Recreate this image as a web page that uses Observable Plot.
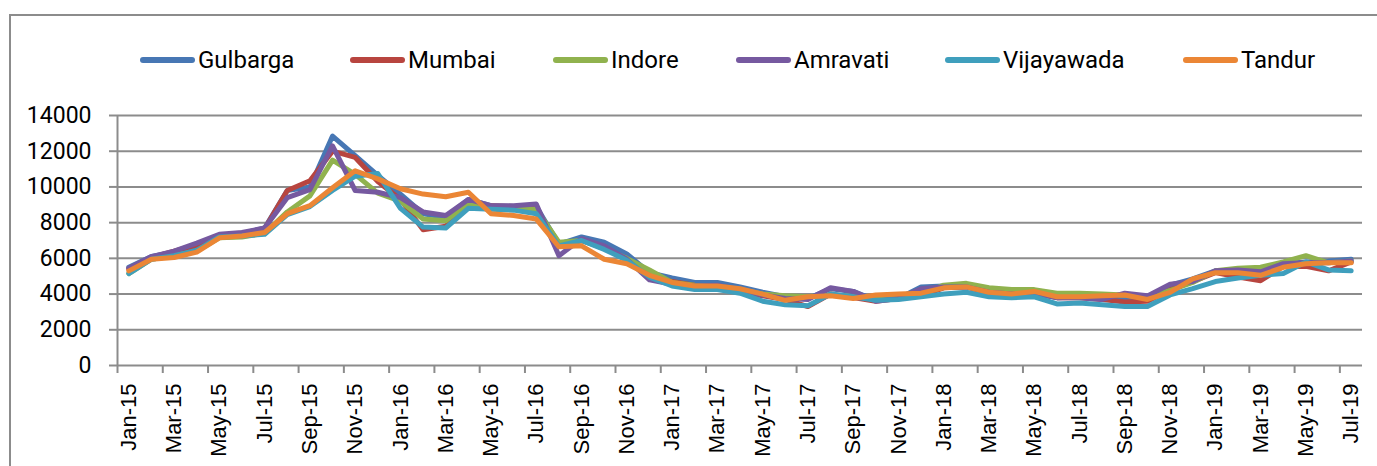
<!DOCTYPE html>
<html><head><meta charset="utf-8">
<script src="https://cdn.jsdelivr.net/npm/d3@7"></script>
<script src="https://cdn.jsdelivr.net/npm/@observablehq/plot@0.6"></script>
<style>
body{margin:0;background:#fff;}
#wrap{position:relative;width:1377px;height:466px;overflow:hidden;background:#fff;}
#frame{position:absolute;left:9px;top:14px;width:1400px;height:500px;border:2px solid #8c8c8c;box-sizing:border-box;}
#legend{position:absolute;left:0;top:45px;height:30px;width:1377px;font-family:Roboto,sans-serif;font-size:24px;color:#000;}
.item{position:absolute;top:0;height:30px;display:flex;align-items:center;white-space:nowrap;}
.sw{width:55px;height:6px;border-radius:3px;margin-right:3px;}
#chart{position:absolute;left:0;top:95px;}
</style>
</head><body>
<div id="wrap"><div id="frame"></div><div id="legend"></div><div id="chart"></div></div>
<script>
const months = ["Jan-15","Feb-15","Mar-15","Apr-15","May-15","Jun-15","Jul-15","Aug-15","Sep-15","Oct-15","Nov-15","Dec-15",
"Jan-16","Feb-16","Mar-16","Apr-16","May-16","Jun-16","Jul-16","Aug-16","Sep-16","Oct-16","Nov-16","Dec-16",
"Jan-17","Feb-17","Mar-17","Apr-17","May-17","Jun-17","Jul-17","Aug-17","Sep-17","Oct-17","Nov-17","Dec-17",
"Jan-18","Feb-18","Mar-18","Apr-18","May-18","Jun-18","Jul-18","Aug-18","Sep-18","Oct-18","Nov-18","Dec-18",
"Jan-19","Feb-19","Mar-19","Apr-19","May-19","Jun-19","Jul-19"];
const seriesNames = ["Gulbarga","Mumbai","Indore","Amravati","Vijayawada","Tandur"];
const seriesColors = ["#4777b4","#b8453f","#90b24e","#7659a0","#3f9fbd","#eb8635"];
const gulbarga = [5500,6100,6350,6700,7300,7400,7700,9800,10000,12850,11750,10650,9600,8500,8300,9300,8950,8900,8900,6800,7200,6900,6250,5200,4900,4650,4650,4400,4100,3850,3750,4300,4150,3650,3750,4400,4450,4450,4100,4000,4050,3800,3850,3800,3800,3700,4500,4850,5300,5350,5250,5700,5800,5850,5950];
const mumbai = [5400,6050,6400,6750,7300,7400,7650,9800,10350,12000,11650,10300,9300,7600,7800,9000,8950,8900,8800,6700,7000,6600,5900,5100,4700,4500,4450,4100,3900,3700,3300,4000,3800,3600,3750,3900,4350,4400,4050,4000,4050,3800,3800,3700,3550,3600,4250,4700,5200,4950,4750,5550,5550,5300,5800];
const indore = [5150,5950,6150,6400,7150,7200,7400,8600,9500,11500,10700,9650,9200,8200,8100,9050,8800,8750,8750,6900,7000,6550,6000,5350,4650,4500,4450,4250,4000,3900,3850,3950,3850,3800,3850,4000,4500,4600,4350,4250,4250,4050,4050,4000,3950,3800,4200,4650,5300,5450,5500,5800,6150,5750,5850];
const amravati = [5450,6100,6400,6850,7350,7450,7700,9400,9850,12300,9800,9700,9400,8600,8400,9300,8950,8950,9050,6150,7100,6700,5950,4800,4550,4450,4500,4250,3950,3750,3700,4350,4150,3600,3750,4300,4400,4400,4100,4000,4050,3800,3800,3700,4050,3900,4550,4700,5300,5350,5250,5700,5750,5750,5850];
const vijayawada = [5150,5950,6150,6450,7200,7250,7350,8450,8900,9800,10600,10750,8800,7750,7700,8800,8750,8700,8500,6700,7000,6500,5900,4950,4450,4250,4250,4050,3600,3400,3350,4000,3850,3650,3700,3850,4000,4100,3850,3800,3850,3450,3500,3400,3300,3300,3950,4300,4700,4900,5050,5150,5800,5350,5300];
const tandur = [5300,5950,6050,6350,7150,7250,7450,8500,8950,9950,10900,10450,9900,9600,9450,9700,8500,8400,8200,6650,6700,5950,5700,5050,4650,4450,4450,4300,4000,3650,3850,3900,3750,3950,4000,4050,4350,4400,4100,4000,4150,3850,3850,3900,3950,3700,4100,4850,5200,5200,5050,5500,5700,5750,5750];
const yTicks = [0,2000,4000,6000,8000,10000,12000,14000];

const allSeries = [gulbarga, mumbai, indore, amravati, vijayawada, tandur];
const data = [];
allSeries.forEach((vals, s) => vals.forEach((v, i) => data.push({i, month: months[i], value: v, series: seriesNames[s]})));

const idx = months.map((m, i) => i);
const xDomain = [-0.5, months.length - 0.5];
const boundaries = idx.filter(i => i % 2 === 0).map(i => i - 0.5);
const labelIdx = idx.filter(i => i % 2 === 0);

// legend (item left offsets are layout)
const legendLeft = [140, 350, 553, 736, 945, 1183];
const leg = document.getElementById("legend");
seriesNames.forEach((n, k) => {
  const it = document.createElement("div"); it.className = "item";
  it.style.left = legendLeft[k] + "px";
  it.innerHTML = `<div class="sw" style="background:${seriesColors[k]}"></div><span>${n}</span>`;
  leg.appendChild(it);
});

const chart = Plot.plot({
  width: 1377, height: 371,
  marginLeft: 117, marginRight: 15, marginTop: 20, marginBottom: 101,
  style: {background: "transparent", overflow: "visible"},
  x: {type: "linear", domain: xDomain},
  y: {domain: [0, 14000]},
  color: {domain: seriesNames, range: seriesColors},
  marks: [
    Plot.gridY(yTicks.filter(t => t > 0), {stroke: "#8c8c8c", strokeOpacity: 1, strokeWidth: 2}),
    Plot.axisY({ticks: yTicks, tickSize: 8, tickPadding: 18, stroke: "#8c8c8c", strokeWidth: 2,
      fontSize: 23, fontFamily: "Roboto", fill: "#000", tickFormat: d => String(d), label: null}),
    Plot.axisX({ticks: boundaries, tickSize: 8, tickFormat: () => "", stroke: "#8c8c8c", strokeWidth: 2, label: null}),
    Plot.axisX({ticks: labelIdx, tickSize: 0, tickPadding: 18, tickRotate: -90, tickFormat: i => months[i],
      fontSize: 22, fontFamily: "Liberation Sans", fill: "#000", label: null}),
    Plot.ruleX([xDomain[0]], {stroke: "#8c8c8c", strokeWidth: 2}),
    Plot.ruleY([0], {stroke: "#8c8c8c", strokeWidth: 2}),
    Plot.line(data, {x: "i", y: "value", z: "series", stroke: "series", strokeWidth: 5,
      strokeLinejoin: "round", strokeLinecap: "round"})
  ]
});
document.getElementById("chart").appendChild(chart);
</script>
</body></html>
